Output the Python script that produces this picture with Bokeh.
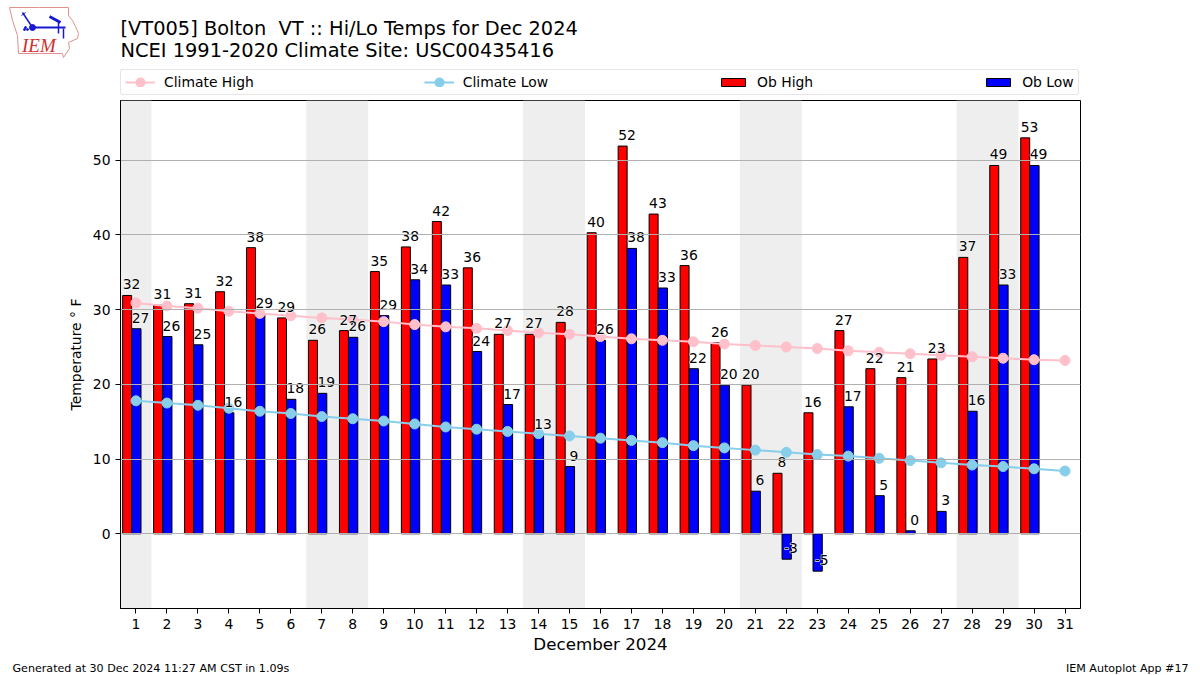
from bokeh.plotting import figure
from bokeh.layouts import column
from bokeh.models import ColumnDataSource, Legend, LegendItem, FixedTicker, Range1d
from bokeh.core.properties import value
from bokeh.embed import file_html
from bokeh.resources import INLINE

FONT = "DejaVu Sans"
NAN = float("nan")
days = list(range(1, 32))
tick_days = days
y_ticks = [0, 10, 20, 30, 40, 50]
ob_days = list(range(1, 31))
ob_high = [31.9, 30.6, 30.8, 32.4, 38.3, 28.9, 25.9, 27.2, 35.1, 38.4, 41.8, 35.6, 26.7, 26.7, 28.3,
           40.3, 51.9, 42.8, 35.9, 25.6, 19.9, 8.1, 16.2, 27.2, 22.1, 20.9, 23.4, 37.0, 49.3, 53.0]
ob_low = [27.45, 26.4, 25.3, 16.2, 29.4, 18.0, 18.8, 26.3, 29.2, 34.0, 33.3, 24.4, 17.3, 13.2, 9.0,
          25.9, 38.2, 32.9, 22.1, 19.9, 5.7, -3.4, -5.0, 17.0, 5.1, 0.4, 3.0, 16.4, 33.3, 49.3]
clim_high = [30.9, 30.5, 30.2, 29.8, 29.5, 29.2, 28.9, 28.7, 28.4, 28.0, 27.7, 27.5, 27.2, 26.9, 26.7, 26.4,
             26.1, 25.9, 25.7, 25.4, 25.2, 25.0, 24.8, 24.5, 24.3, 24.1, 23.9, 23.7, 23.5, 23.3, 23.2]
clim_low = [17.8, 17.5, 17.2, 16.8, 16.4, 16.1, 15.7, 15.4, 15.1, 14.7, 14.3, 14.0, 13.7, 13.4, 13.1, 12.8,
            12.5, 12.2, 11.8, 11.5, 11.2, 10.9, 10.6, 10.4, 10.1, 9.8, 9.5, 9.2, 9.0, 8.7, 8.4]
weekend_left = [0.5, 6.5, 13.5, 20.5, 27.5]
weekend_right = [1.5, 8.5, 15.5, 22.5, 29.5]
title_lines = ["[VT005] Bolton \u00a0VT :: Hi/Lo Temps for Dec 2024", "NCEI 1991-2020 Climate Site: USC00435416"]
footer_left = "Generated at 30 Dec 2024 11:27 AM CST in 1.09s"
footer_right = "IEM Autoplot App #17"


def strip(h, y0):
    """A blank figure whose ranges are page pixels."""
    f = figure(width=1200, height=h, output_backend="svg", toolbar_location=None,
               x_range=Range1d(0, 1200), y_range=Range1d(y0 + h, y0),
               min_border=0, min_border_left=0, min_border_right=0, min_border_top=0, min_border_bottom=0,
               x_axis_type=None, y_axis_type=None, frame_align=False)
    f.outline_line_color = None
    f.grid.visible = False
    return f


# Header: logo, title, legend
head = strip(100, 0)
head.text([120], [28], text=[title_lines[0]], text_font=value(FONT), text_font_size="19.4px",
          text_color="black", text_baseline="alphabetic")
head.text([120], [50], text=[title_lines[1]], text_font=value(FONT), text_font_size="19.4px",
          text_color="black", text_baseline="alphabetic")
head.patch([9, 39, 68, 68, 72, 75, 78, 77, 68, 69, 63, 62, 18, 17, 12],
           [7, 7, 7, 15, 20, 26, 33, 38, 42, 48, 57, 53, 53, 35, 20],
           fill_color="white", line_color="#e28f8f", line_width=1)
head.line([32, 65], [27, 27], line_color="#1818d0", line_width=2)
head.line([22, 32], [12, 27], line_color="#1818d0", line_width=1.5)
head.line([21, 25], [15, 12], line_color="#1818d0", line_width=1)
head.line([49, 60], [16, 22], line_color="#1818d0", line_width=3)
head.line([58, 58], [22, 33], line_color="#1818d0", line_width=1.5)
head.line([63, 63], [28, 38], line_color="#1818d0", line_width=1.5)
head.scatter([32], [27], size=6, fill_color="#1818d0", line_color="#1818d0")
head.scatter([25, 24, 27], [27, 29, 29], size=2, fill_color="#1818d0", line_color="#1818d0")
head.text([21.5], [45], text=["IEM"], text_font=value("Liberation Serif"), text_font_style="italic",
          text_font_size="19px", text_color="#d03030", text_baseline="alphabetic")

# Legend keys: the legend draws small markers, so a thick edge brings them to full size
nan_xy = dict(x=[NAN], y=[NAN])
k_ch_l = head.line(line_color="pink", line_width=2, **nan_xy)
k_ch = head.scatter(size=10, fill_color="pink", line_color="pink", line_width=6, **nan_xy)
k_cl_l = head.line(line_color="skyblue", line_width=2, **nan_xy)
k_cl = head.scatter(size=10, fill_color="skyblue", line_color="skyblue", line_width=6, **nan_xy)
k_hi = head.vbar(x=[NAN], top=[NAN], bottom=0, width=1, fill_color="red", line_color="black", line_width=1)
k_lo = head.vbar(x=[NAN], top=[NAN], bottom=0, width=1, fill_color="blue", line_color="black", line_width=1)
legend = Legend(items=[LegendItem(label="Climate High", renderers=[k_ch_l, k_ch]),
                       LegendItem(label="Climate Low", renderers=[k_cl_l, k_cl]),
                       LegendItem(label="Ob High", renderers=[k_hi]),
                       LegendItem(label="Ob Low", renderers=[k_lo])],
                orientation="horizontal", location=(120, 5), spacing=170,
                glyph_width=30, glyph_height=10, label_standoff=9,
                label_text_font=FONT, label_text_font_size="13.9px", label_text_color="black",
                border_line_color="#cccccc", border_line_width=1,
                background_fill_color="white", background_fill_alpha=1,
                margin=0, padding=4, label_height=14)
if "border_radius" in legend.properties():
    legend.border_radius = 3
head.add_layout(legend, "center")

# Main chart
p = figure(width=1200, height=550, output_backend="svg", toolbar_location=None,
           x_range=Range1d(0.5, 31.5), y_range=Range1d(-10, 58),
           frame_width=960, frame_height=508, frame_align=False,
           min_border_left=120, min_border_right=120, min_border_top=0, min_border_bottom=42,
           background_fill_color="white", border_fill_color="white")
p.outline_line_color = "black"
p.outline_line_width = 1
p.xgrid.visible = False
p.ygrid.grid_line_color = "#b0b0b0"
p.ygrid.grid_line_width = 1
p.ygrid.level = "glyph"
p.ygrid.ticker = FixedTicker(ticks=y_ticks)

for ax, ticks in ((p.xaxis[0], tick_days), (p.yaxis[0], y_ticks)):
    ax.ticker = FixedTicker(ticks=ticks)
    ax.minor_tick_line_color = None
    ax.major_tick_in = 0
    ax.major_tick_out = 5
    ax.major_label_text_font = FONT
    ax.major_label_text_font_size = "13.9px"
    ax.major_label_text_color = "black"
    ax.axis_line_color = "black"
    ax.axis_label_text_font = FONT
    ax.axis_label_text_font_style = "normal"
    ax.axis_label_text_color = "black"
p.xaxis.axis_label = "December 2024"
p.xaxis.axis_label_text_font_size = "16.7px"
p.xaxis.axis_label_standoff = 2
p.yaxis.axis_label = "Temperature ° F"
p.yaxis.axis_label_text_font_size = "13.9px"
p.yaxis.axis_label_standoff = 6

p.quad(left=weekend_left, right=weekend_right, bottom=-10, top=58,
       fill_color="#eeeeee", line_color=None, level="underlay")

hi = ColumnDataSource(dict(x=[d - 0.285 for d in ob_days], top=ob_high))
lo = ColumnDataSource(dict(x=[d + 0.012 for d in ob_days], top=ob_low))
p.vbar(x="x", top="top", bottom=0, width=0.29, source=hi, fill_color="red", line_color="black", line_width=1)
p.vbar(x="x", top="top", bottom=0, width=0.30, source=lo, fill_color="blue", line_color="black", line_width=1)

p.line(days, clim_high, line_color="pink", line_width=2)
p.scatter(days, clim_high, size=10, fill_color="pink", line_color="pink")
p.line(days, clim_low, line_color="skyblue", line_width=2)
p.scatter(days, clim_low, size=10, fill_color="skyblue", line_color="skyblue")


def value_labels(vals, dx):
    common = dict(text=[str(round(v)) for v in vals], x_offset=dx, y_offset=-11, text_font=value(FONT),
                  text_font_size="13.9px", text_align="center", text_baseline="alphabetic")
    p.text(ob_days, vals, text_color="white", text_outline_color="white", **common)
    p.text(ob_days, vals, text_color="black", **common)


value_labels(ob_high, -4.5)
value_labels(ob_low, 4.5)

# Footer
foot = strip(21, 654)
foot.text([12], [666], text=[footer_left], text_font=value(FONT), text_font_size="11.1px",
          text_color="black", text_baseline="alphabetic")
foot.text([1188], [666], text=[footer_right], text_font=value(FONT), text_font_size="11.1px",
          text_color="black", text_align="right", text_baseline="alphabetic")

page = column(head, p, foot, spacing=0)
open("out.html", "w").write(file_html(page, INLINE))
